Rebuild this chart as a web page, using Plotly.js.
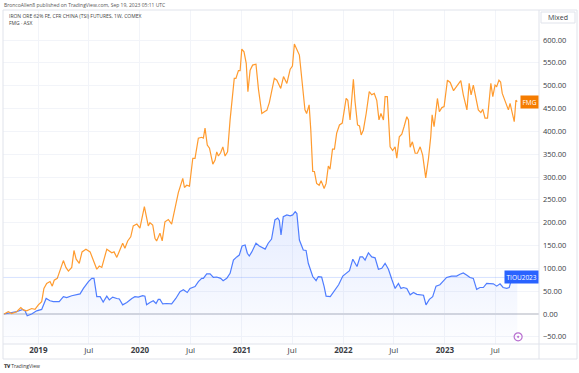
<!DOCTYPE html>
<html>
<head>
<meta charset="utf-8">
<script src="https://cdn.plot.ly/plotly-3.0.1.min.js"></script>
<style>
  html, body { margin: 0; padding: 0; background: #ffffff; }
  #chart { width: 579px; height: 373px; }
</style>
</head>
<body>
<div id="chart"></div>
<script>
// FMG (ASX) weekly % change from start
const fmgDates = ["2018-08-31","2018-09-15","2018-09-27","2018-10-15","2018-10-30","2018-11-08","2018-11-20","2018-12-08","2018-12-20","2019-01-01",
"2019-01-13","2019-01-21","2019-01-31","2019-02-12","2019-02-20","2019-02-27","2019-03-10","2019-03-20","2019-04-01","2019-04-10",
"2019-04-19","2019-05-01","2019-05-09","2019-05-17","2019-05-28","2019-06-07","2019-06-21","2019-07-06","2019-07-18","2019-07-30",
"2019-08-08","2019-08-17","2019-09-04","2019-09-22","2019-09-30","2019-10-10","2019-10-22","2019-10-31","2019-11-08","2019-11-18",
"2019-11-29","2019-12-08","2019-12-21","2020-01-01","2020-01-17","2020-01-31","2020-02-06","2020-02-16","2020-02-24","2020-03-01",
"2020-03-13","2020-03-21","2020-03-31","2020-04-12","2020-04-24","2020-05-06","2020-05-18","2020-06-03","2020-06-09","2020-06-17",
"2020-06-27","2020-07-09","2020-07-17","2020-07-29","2020-08-10","2020-08-16","2020-08-22","2020-08-30","2020-09-07","2020-09-19",
"2020-09-27","2020-10-03","2020-10-09","2020-10-17","2020-10-25","2020-11-02","2020-11-11","2020-11-20","2020-11-29","2020-12-05",
"2020-12-11","2020-12-20","2020-12-26","2021-01-01","2021-01-09","2021-01-17","2021-01-23","2021-01-31","2021-02-09","2021-02-21",
"2021-03-02","2021-03-14","2021-03-26","2021-04-01","2021-04-10","2021-04-19","2021-04-28","2021-05-07","2021-05-21","2021-05-31",
"2021-06-12","2021-06-24","2021-07-02","2021-07-09","2021-07-18","2021-07-27","2021-07-30","2021-08-08","2021-08-16","2021-08-22",
"2021-08-31","2021-09-06","2021-09-13","2021-09-19","2021-09-27","2021-10-06","2021-10-13","2021-10-24","2021-10-31","2021-11-08",
"2021-11-14","2021-11-23","2021-11-30","2021-12-08","2021-12-18","2021-12-28","2022-01-11","2022-01-17","2022-01-25","2022-02-06",
"2022-02-12","2022-02-21","2022-02-28","2022-03-06","2022-03-14","2022-03-24","2022-04-04","2022-04-13","2022-04-22","2022-05-01",
"2022-05-09","2022-05-16","2022-05-25","2022-05-31","2022-06-08","2022-06-18","2022-06-27","2022-07-06","2022-07-12","2022-07-21",
"2022-07-30","2022-08-07","2022-08-17","2022-08-23","2022-08-29","2022-09-06","2022-09-16","2022-09-24","2022-10-04","2022-10-13",
"2022-10-24","2022-11-03","2022-11-11","2022-11-16","2022-11-23","2022-12-05","2022-12-12","2022-12-21","2022-12-29","2023-01-10",
"2023-01-20","2023-02-01","2023-02-13","2023-02-27","2023-03-08","2023-03-21","2023-03-29","2023-04-05","2023-04-13","2023-04-23",
"2023-05-01","2023-05-10","2023-05-17","2023-05-25","2023-06-03","2023-06-15","2023-06-22","2023-06-30","2023-07-06","2023-07-14",
"2023-07-20","2023-07-26","2023-08-05","2023-08-17","2023-08-23","2023-08-29","2023-09-07","2023-09-13","2023-09-18"];
const fmgValues = [0,5,1,5,14,9,7,12,10,20,
27,56,67,71,61,74,78,95,117,102,
94,102,139,120,111,136,142,136,118,98,
105,102,142,134,136,124,142,155,144,160,
169,193,197,188,235,193,200,195,166,160,
177,160,202,207,197,235,266,297,277,282,
280,341,341,385,387,385,407,370,363,328,
337,355,346,353,366,346,355,425,476,516,
516,533,533,580,574,549,487,534,545,547,
492,439,444,446,463,490,516,512,494,520,
505,536,543,591,577,567,549,501,447,439,
458,403,312,312,286,282,292,275,286,324,
317,361,361,396,414,418,472,468,425,514,
465,414,412,392,403,439,487,480,483,468,
425,439,425,476,476,366,358,366,341,388,
394,410,432,425,365,377,352,352,366,348,
298,341,388,436,410,472,443,452,454,512,
507,489,498,511,480,447,505,480,501,468,
447,441,448,429,429,505,476,501,498,512,
508,483,468,447,461,443,421,468,465];

// Iron ore 62% Fe CFR China (TSI) futures, TIOU2023, % change from start
const tioDates = ["2018-08-31","2018-09-21","2018-10-15","2018-11-06","2018-11-14","2018-11-22","2018-12-08","2018-12-26","2019-01-13","2019-01-29",
"2019-02-12","2019-02-24","2019-03-17","2019-04-01","2019-04-13","2019-05-01","2019-05-17","2019-05-31","2019-06-12","2019-06-30",
"2019-07-12","2019-07-20","2019-07-30","2019-08-11","2019-08-22","2019-09-04","2019-09-13","2019-09-25","2019-10-10","2019-10-19",
"2019-10-31","2019-11-15","2019-12-03","2019-12-14","2019-12-26","2020-01-11","2020-01-19","2020-01-25","2020-02-06","2020-02-18",
"2020-02-28","2020-03-07","2020-03-13","2020-03-23","2020-04-06","2020-04-24","2020-05-09","2020-05-24","2020-06-05","2020-06-19",
"2020-06-29","2020-07-17","2020-07-29","2020-08-10","2020-08-16","2020-08-28","2020-09-09","2020-09-21","2020-10-03","2020-10-17",
"2020-10-26","2020-11-08","2020-11-20","2020-12-02","2020-12-14","2020-12-23","2021-01-02","2021-01-13","2021-01-21","2021-01-28",
"2021-02-06","2021-02-21","2021-03-05","2021-03-26","2021-04-06","2021-04-18","2021-04-30","2021-05-10","2021-05-16","2021-05-22",
"2021-05-30","2021-06-12","2021-06-24","2021-07-03","2021-07-12","2021-07-18","2021-07-27","2021-08-10","2021-08-20","2021-08-28",
"2021-09-13","2021-09-25","2021-10-03","2021-10-15","2021-10-24","2021-10-31","2021-11-15","2021-12-03","2021-12-15","2021-12-30",
"2022-01-14","2022-01-23","2022-02-04","2022-02-13","2022-02-19","2022-03-02","2022-03-11","2022-03-20","2022-04-01","2022-04-13",
"2022-04-25","2022-05-07","2022-05-19","2022-05-31","2022-06-12","2022-06-24","2022-07-06","2022-07-18","2022-07-27","2022-08-05",
"2022-08-17","2022-08-29","2022-09-10","2022-09-22","2022-10-04","2022-10-16","2022-10-25","2022-11-06","2022-11-18","2022-11-30",
"2022-12-14","2022-12-24","2023-01-07","2023-01-25","2023-02-12","2023-02-24","2023-03-08","2023-03-21","2023-04-01","2023-04-13",
"2023-04-19","2023-04-25","2023-05-07","2023-05-19","2023-05-31","2023-06-12","2023-06-24","2023-07-06","2023-07-18","2023-07-29",
"2023-08-11","2023-08-20","2023-08-25","2023-09-08","2023-09-18"];
const tioValues = [0,3,5,10,7,-4,0,7,10,34,
29,27,27,38,36,40,43,44,56,71,
78,78,38,38,26,39,31,37,34,33,
20,25,34,38,37,40,39,20,25,29,
23,32,32,22,23,22,34,49,53,47,
56,60,71,78,78,88,88,80,81,78,
73,78,89,118,125,129,149,151,133,127,
136,155,149,142,155,164,206,210,205,173,
213,217,215,217,224,220,162,140,139,111,
82,73,82,81,60,39,38,53,64,83,
90,95,120,109,104,125,125,118,134,125,
123,98,100,111,98,76,56,67,56,58,
56,42,47,43,42,41,20,32,38,61,
64,71,80,83,83,87,90,85,80,78,
67,54,58,58,67,66,66,61,66,58,
56,58,69,76,80];

const yTicks = [-50,0,50,100,150,200,250,300,350,400,450,500,550,600];
const xTickVals = ["2019-01-01","2019-07-01","2020-01-01","2020-07-01","2021-01-01","2021-07-01","2022-01-01","2022-07-01","2023-01-01","2023-07-01"];
const xTickText = ["<b>2019</b>","Jul","<b>2020</b>","Jul","<b>2021</b>","Jul","<b>2022</b>","Jul","<b>2023</b>","Jul"];
const eventDate = ["2023-09-21"];
const eventValue = [-50];

const yMin = -65.7, yMax = 665.7;
const FONT = "Open Sans, Noto Sans, sans-serif";
const W = 579, H = 373, ML = 3, MR = 40, MT = 10, MB = 29;
const PW = W - ML - MR, PH = H - MT - MB;
const px = x => (x - ML) / PW;
const py = y => (H - MB - y) / PH;

const lastTio = tioValues[tioValues.length - 1];
const lastFmg = fmgValues[fmgValues.length - 1];

const traces = [
  { x: [tioDates[0], tioDates[tioDates.length-1]], y: [yMin, yMin], mode: "lines",
    line: { width: 0, color: "rgba(0,0,0,0)" }, hoverinfo: "skip", showlegend: false },
  { x: tioDates, y: tioValues, mode: "lines", fill: "tonexty",
    fillgradient: { type: "vertical", colorscale: [[0, "rgba(41,98,255,0.01)"], [1, "rgba(41,98,255,0.12)"]] },
    line: { color: "#4f7dff", width: 1.2 }, showlegend: false },
  { x: fmgDates, y: fmgValues, mode: "lines",
    line: { color: "#ff9b2f", width: 1.2 }, showlegend: false },
  { x: eventDate, y: eventValue, mode: "markers",
    marker: { symbol: "circle-open-dot", size: 8, color: "#b86fd0", line: { width: 1.2, color: "#b86fd0" } },
    showlegend: false }
];

const grey = "#e0e3eb";
const layout = {
  width: W, height: H,
  margin: { l: ML, r: MR, t: MT, b: MB },
  paper_bgcolor: "#ffffff", plot_bgcolor: "#ffffff",
  showlegend: false,
  font: { family: FONT, size: 8, color: "#3a3d45" },
  xaxis: {
    type: "date", range: ["2018-08-27", "2023-12-05"],
    tickvals: xTickVals, ticktext: xTickText,
    showgrid: true, gridcolor: "#f2f4f9", gridwidth: 1,
    zeroline: false, showline: false, ticks: "",
    tickfont: { size: 8, color: "#3a3d45", family: FONT }, fixedrange: true
  },
  yaxis: {
    side: "right", range: [yMin, yMax],
    tickvals: yTicks, tickformat: ".2f", ticksuffix: "%",
    showgrid: true, gridcolor: "#f2f4f9", gridwidth: 1,
    zeroline: true, zerolinecolor: "#d6d8de", zerolinewidth: 1.5,
    showline: false, ticks: "", ticklabelstandoff: 3,
    tickfont: { size: 7.5, color: "#3a3d45", family: FONT }, fixedrange: true
  },
  shapes: [
    { type: "line", xref: "paper", yref: "y", x0: 0, x1: 1, y0: lastTio, y1: lastTio,
      line: { color: "rgba(41,98,255,0.18)", width: 1 } },
    { type: "rect", xref: "paper", yref: "paper", x0: px(3), x1: px(577), y0: py(359), y1: py(10),
      line: { color: grey, width: 1 } },
    { type: "line", xref: "paper", yref: "paper", x0: px(539), x1: px(539), y0: py(359), y1: py(10),
      line: { color: grey, width: 1 } },
    { type: "line", xref: "paper", yref: "paper", x0: px(3), x1: px(577), y0: py(344), y1: py(344),
      line: { color: grey, width: 1 } },
    { type: "rect", xref: "paper", yref: "paper", x0: px(541), x1: px(575), y0: py(23), y1: py(12),
      line: { color: grey, width: 1 }, fillcolor: "#ffffff" }
  ],
  annotations: [
    { xref: "paper", yref: "paper", x: px(2), y: py(5), xanchor: "left", yanchor: "middle",
      text: "BroncoAllen8 published on TradingView.com, Sep 19, 2023 05:11 UTC", showarrow: false,
      font: { size: 5, color: "#555", family: FONT } },
    { xref: "paper", yref: "paper", x: px(7), y: py(15.5), xanchor: "left", yanchor: "middle",
      text: "IRON ORE 62% FE, CFR CHINA (TSI) FUTURES, 1W, COMEX", showarrow: false,
      font: { size: 5, color: "#444", family: FONT } },
    { xref: "paper", yref: "paper", x: px(7), y: py(22.5), xanchor: "left", yanchor: "middle",
      text: "FMG · ASX", showarrow: false,
      font: { size: 5, color: "#444", family: FONT } },
    { xref: "paper", yref: "paper", x: px(558), y: py(17.5), xanchor: "center", yanchor: "middle",
      text: "Mixed", showarrow: false, font: { size: 7, color: "#3a3d45", family: FONT } },
    { xref: "paper", yref: "y", x: 1, y: lastFmg, xanchor: "right", yanchor: "middle",
      text: "FMG", showarrow: false, bgcolor: "#f57c00", borderpad: 1.5,
      font: { size: 6.5, color: "#ffffff", family: FONT } },
    { xref: "paper", yref: "y", x: 1, y: lastTio, xanchor: "right", yanchor: "middle",
      text: "TIOU2023", showarrow: false, bgcolor: "#2962ff", borderpad: 1.5,
      font: { size: 6.5, color: "#ffffff", family: FONT } },
    { xref: "paper", yref: "paper", x: px(2), y: py(366), xanchor: "left", yanchor: "middle",
      text: "<b>𝐓𝐕</b> TradingView", showarrow: false,
      font: { size: 5, color: "#333", family: FONT } }
  ]
};

Plotly.newPlot("chart", traces, layout, { displayModeBar: false, staticPlot: true });
</script>
</body>
</html>
